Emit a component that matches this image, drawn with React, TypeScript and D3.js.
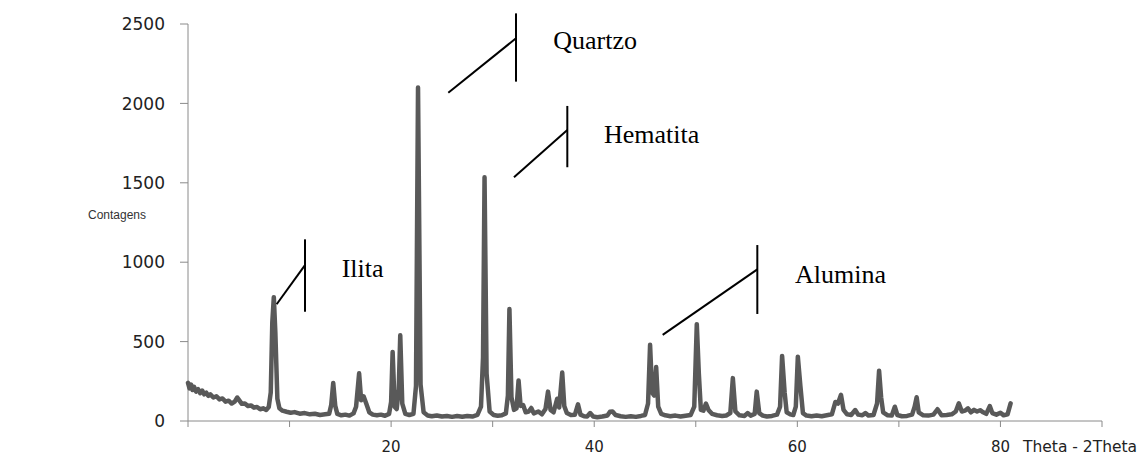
import React from 'react';
import * as d3 from 'd3';

// 2theta (degrees) and counts
const pattern: [number, number][] = [
  [0, 240], [0.15, 205], [0.3, 230], [0.45, 195], [0.6, 215], [0.8, 185], [1.0, 200], [1.2, 175],
  [1.4, 192], [1.6, 168], [1.8, 178], [2.0, 158], [2.2, 168], [2.5, 148], [2.8, 156], [3.1, 136],
  [3.4, 142], [3.7, 122], [4.0, 128], [4.3, 110], [4.6, 122], [4.85, 148], [5.05, 130], [5.3, 108],
  [5.6, 110], [5.9, 94], [6.2, 98], [6.5, 84], [6.8, 88], [7.1, 74], [7.4, 80], [7.7, 70],
  [7.95, 88], [8.15, 180], [8.3, 620], [8.45, 780], [8.6, 560], [8.8, 140], [9.0, 80], [9.3, 65],
  [9.7, 58], [10.1, 52], [10.5, 56], [11.0, 46], [11.5, 50], [12.0, 42], [12.5, 46], [13.0, 38],
  [13.5, 42], [13.9, 45], [14.1, 100], [14.3, 240], [14.5, 95], [14.7, 45], [15.1, 36], [15.5, 40],
  [15.9, 34], [16.3, 48], [16.55, 90], [16.85, 300], [17.05, 130], [17.3, 155], [17.55, 110], [17.85, 55],
  [18.2, 40], [18.6, 36], [19.0, 40], [19.4, 33], [19.8, 45], [20.0, 120], [20.15, 435], [20.35, 90],
  [20.55, 75], [20.75, 200], [20.9, 540], [21.1, 110], [21.4, 45], [21.8, 38], [22.2, 45], [22.45, 220],
  [22.65, 2100], [22.9, 230], [23.2, 55], [23.6, 35], [24.0, 30], [24.5, 35], [25.0, 28], [25.5, 32],
  [26.0, 26], [26.5, 31], [27.0, 27], [27.5, 32], [28.0, 28], [28.5, 38], [28.85, 90], [29.05, 400],
  [29.2, 1535], [29.4, 300], [29.7, 60], [30.1, 38], [30.5, 33], [30.9, 36], [31.3, 48], [31.5, 160],
  [31.65, 705], [31.85, 150], [32.1, 70], [32.35, 80], [32.55, 255], [32.75, 95], [33.0, 100], [33.25, 55],
  [33.55, 60], [33.8, 82], [34.05, 48], [34.5, 60], [34.85, 42], [35.2, 75], [35.45, 185], [35.7, 70],
  [36.0, 55], [36.35, 140], [36.55, 85], [36.85, 305], [37.05, 95], [37.3, 50], [37.7, 38], [38.1, 40],
  [38.4, 105], [38.65, 40], [39.0, 30], [39.3, 28], [39.6, 50], [39.9, 28], [40.3, 24], [40.8, 28],
  [41.3, 35], [41.55, 58], [41.8, 60], [42.1, 38], [42.6, 30], [43.1, 26], [43.6, 30], [44.1, 26],
  [44.6, 32], [45.0, 38], [45.3, 110], [45.5, 480], [45.7, 180], [45.9, 160], [46.1, 340], [46.3, 90],
  [46.6, 45], [47.0, 36], [47.5, 30], [48.0, 34], [48.5, 28], [49.0, 33], [49.5, 38], [49.85, 90],
  [50.1, 610], [50.3, 300], [50.5, 70], [50.75, 65], [51.0, 110], [51.25, 70], [51.6, 45], [52.1, 36],
  [52.6, 32], [53.0, 35], [53.4, 50], [53.65, 270], [53.9, 60], [54.3, 36], [54.8, 32], [55.1, 50],
  [55.4, 34], [55.8, 45], [56.0, 185], [56.25, 50], [56.6, 34], [57.0, 28], [57.5, 32], [58.0, 40],
  [58.3, 90], [58.5, 410], [58.75, 180], [58.95, 55], [59.3, 42], [59.6, 38], [59.85, 90], [60.05, 405],
  [60.3, 220], [60.55, 50], [60.9, 34], [61.4, 30], [61.9, 34], [62.4, 30], [62.9, 36], [63.4, 42],
  [63.75, 120], [64.0, 110], [64.3, 165], [64.55, 70], [64.9, 42], [65.3, 38], [65.7, 69], [66.0, 40],
  [66.4, 36], [66.7, 50], [67.0, 34], [67.5, 38], [67.85, 110], [68.05, 317], [68.25, 150], [68.45, 55],
  [68.9, 36], [69.3, 34], [69.6, 90], [69.85, 38], [70.3, 30], [70.8, 32], [71.3, 40], [71.55, 90],
  [71.75, 150], [71.95, 55], [72.4, 36], [72.9, 34], [73.4, 40], [73.8, 74], [74.2, 36], [74.7, 38],
  [75.2, 42], [75.6, 60], [75.9, 111], [76.2, 60], [76.5, 65], [76.8, 80], [77.1, 55], [77.4, 70],
  [77.7, 60], [78.0, 68], [78.3, 55], [78.6, 45], [78.95, 94], [79.2, 50], [79.6, 40], [80.0, 52],
  [80.3, 36], [80.7, 42], [81.0, 111],
];

const yTicks = [0, 500, 1000, 1500, 2000, 2500];
const xTicks = [0, 10, 20, 30, 40, 50, 60, 70, 80, 90];
const xLabels = [20, 40, 60, 80];

// phase labels with their leader lines, in data units
const phases = [
  { label: 'Quartzo', tx: 35.97, ty: 2343, vx: 32.3, vy0: 2567, vy1: 2137, lx: 25.63, ly: 2067, ly1: 2410 },
  { label: 'Hematita', tx: 40.96, ty: 1753, vx: 37.35, vy0: 1984, vy1: 1598, lx: 32.1, ly: 1535, ly1: 1833 },
  { label: 'Alumina', tx: 59.77, ty: 871, vx: 56.06, vy0: 1108, vy1: 674, lx: 46.74, ly: 542, ly1: 955 },
  { label: 'Ilita', tx: 15.13, ty: 909, vx: 11.52, vy0: 1144, vy1: 688, lx: 8.73, ly: 735, ly1: 982 },
];

const W = 1143;
const H = 455;

export default function App() {
  const x = d3.scaleLinear().domain([0, 90]).range([188, 1102]);
  const y = d3.scaleLinear().domain([0, 2500]).range([421, 24]);

  const line = d3.line<[number, number]>()
    .x(d => x(d[0]))
    .y(d => y(d[1]));

  const sans = 'DejaVu Sans, Verdana, sans-serif';
  const serif = 'Liberation Serif, Times New Roman, serif';

  return (
    <div style={{ position: 'absolute', left: 0, top: 0 }}>
      <svg width={W} height={H} style={{ display: 'block', background: '#fff' }}>
        {/* y axis */}
        <line x1={x(0)} x2={x(0)} y1={y(2500)} y2={y(0)} stroke="#8a8a8a" strokeWidth={1} />
        {yTicks.map(t => (
          <g key={t}>
            <line x1={x(0) - 8} x2={x(0)} y1={y(t)} y2={y(t)} stroke="#8a8a8a" />
            <text x={165} y={y(t)} dy="0.36em" textAnchor="end" fontFamily={sans} fontSize={17} fill="#222">
              {t}
            </text>
          </g>
        ))}
        <text x={88} y={219} fontFamily="Liberation Sans, Arial, sans-serif" fontSize={12} fill="#333">
          Contagens
        </text>

        {/* x axis */}
        <line x1={x(0)} x2={x(90)} y1={y(0)} y2={y(0)} stroke="#8a8a8a" strokeWidth={1} />
        {xTicks.map(t => (
          <line key={t} x1={x(t)} x2={x(t)} y1={y(0)} y2={y(0) + 6} stroke="#8a8a8a" />
        ))}
        {xLabels.map(t => (
          <text key={t} x={x(t)} y={452} textAnchor="middle" fontFamily={sans} fontSize={15} fill="#222">
            {t}
          </text>
        ))}
        <text x={1023} y={452} fontFamily={sans} fontSize={15.5} fill="#222">
          Theta - 2Theta
        </text>

        {/* diffractogram */}
        <path d={line(pattern) ?? ''} fill="none" stroke="#595959" strokeWidth={4.5}
          strokeLinejoin="round" strokeLinecap="round" />

        {/* phase annotations */}
        {phases.map(p => (
          <g key={p.label}>
            <line x1={x(p.vx)} x2={x(p.vx)} y1={y(p.vy0)} y2={y(p.vy1)} stroke="#000" strokeWidth={2} />
            <line x1={x(p.lx)} y1={y(p.ly)} x2={x(p.vx)} y2={y(p.ly1)} stroke="#000" strokeWidth={2} />
            <text x={x(p.tx)} y={y(p.ty)} fontFamily={serif} fontSize={26} fill="#000">
              {p.label}
            </text>
          </g>
        ))}
      </svg>
    </div>
  );
}
